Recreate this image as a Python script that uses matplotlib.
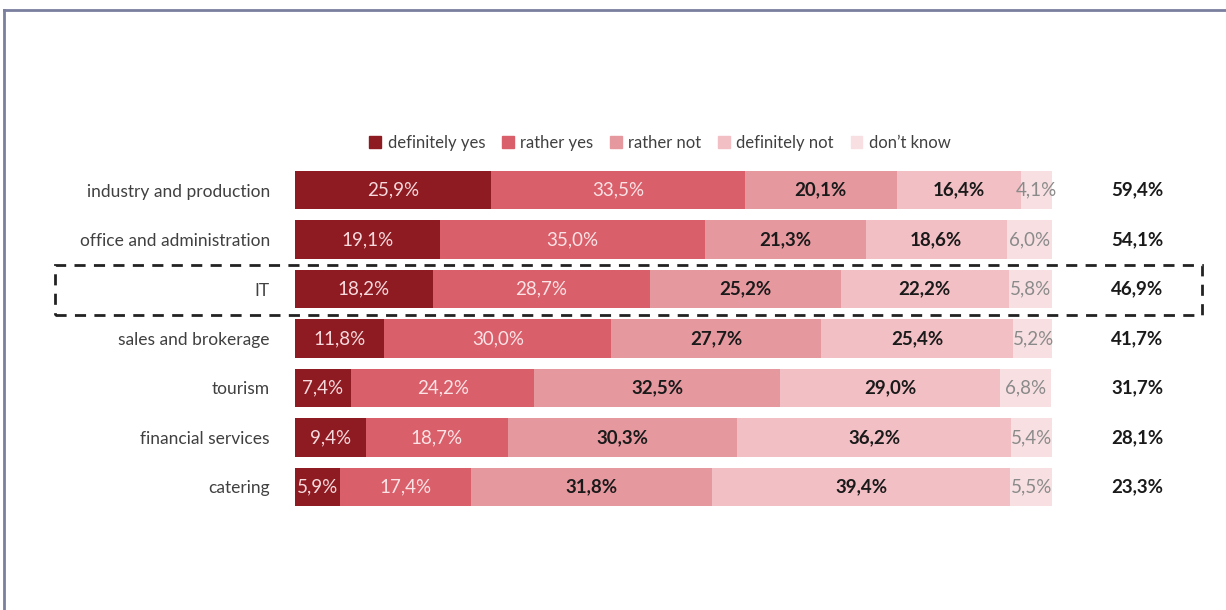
import matplotlib.pyplot as plt
from matplotlib.patches import Rectangle
from matplotlib.lines import Line2D

plt.rcParams['font.family'] = ['Lato', 'DejaVu Sans']

# ----- data -----
categories = ['industry and production', 'office and administration', 'IT',
              'sales and brokerage', 'tourism', 'financial services', 'catering']
definitely_yes = [25.9, 19.1, 18.2, 11.8, 7.4, 9.4, 5.9]
rather_yes = [33.5, 35.0, 28.7, 30.0, 24.2, 18.7, 17.4]
rather_not = [20.1, 21.3, 25.2, 27.7, 32.5, 30.3, 31.8]
definitely_not = [16.4, 18.6, 22.2, 25.4, 29.0, 36.2, 39.4]
dont_know = [4.1, 6.0, 5.8, 5.2, 6.8, 5.4, 5.5]
totals = [59.4, 54.1, 46.9, 41.7, 31.7, 28.1, 23.3]

series_names = ['definitely yes', 'rather yes', 'rather not', 'definitely not', 'don\u2019t know']
colors = ['#8e1b22', '#d95f6a', '#e6989f', '#f2bfc4', '#f8dfe2']
text_colors = ['#f7dadd', '#fbe3e6', '#1a1a1a', '#1a1a1a', '#8a8a8a']
text_weights = ['normal', 'normal', 'bold', 'bold', 'normal']


def fmt(v):
    return f'{v:.1f}%'.replace('.', ',')


def main():
    fig = plt.figure(figsize=(12.26, 6.10), dpi=100)
    W, H = 1226, 610

    # bar area: 0-100% spans px 295..1052, rows centred 190..487
    left_px, right_px = 295, 1052
    top_px, bot_px = 165.25, 511.75
    ax = fig.add_axes([left_px / W, 1 - bot_px / H,
                       (right_px - left_px) / W, (bot_px - top_px) / H])

    series = [definitely_yes, rather_yes, rather_not, definitely_not, dont_know]
    y = list(range(len(categories)))
    lefts = [0.0] * len(categories)
    for vals, col, tc, tw in zip(series, colors, text_colors, text_weights):
        ax.barh(y, vals, left=lefts, height=0.77, color=col, edgecolor='none')
        for i, v in enumerate(vals):
            ax.text(lefts[i] + v / 2, i, fmt(v), ha='center', va='center',
                    color=tc, fontsize=13.5, fontweight=tw)
        lefts = [l + v for l, v in zip(lefts, vals)]

    for i, t in enumerate(totals):
        ax.text(111.3, i, fmt(t), ha='center', va='center', fontsize=13.5,
                fontweight='bold', color='#1a1a1a', clip_on=False)

    ax.set_xlim(0, 100)
    ax.set_ylim(len(categories) - 0.5, -0.5)
    ax.set_yticks(y)
    ax.set_yticklabels(categories, fontsize=12.5, color='#404040')
    ax.tick_params(axis='y', length=0, pad=18)
    ax.set_xticks([])
    for s in ax.spines.values():
        s.set_visible(False)

    # dashed box around IT row
    fig.add_artist(Rectangle((55 / W, 1 - 315 / H), (1202 - 55) / W, 50 / H,
                             transform=fig.transFigure, fill=False,
                             edgecolor='#222222', linestyle=(0, (4, 3)), linewidth=2))

    # frame lines (left and top)
    fig.add_artist(Line2D([4 / W, 4 / W], [0, 1 - 10 / H], transform=fig.transFigure,
                          color='#7a7f9e', linewidth=2))
    fig.add_artist(Line2D([4 / W, 1], [1 - 10 / H, 1 - 10 / H], transform=fig.transFigure,
                          color='#7a7f9e', linewidth=2))

    handles = [Rectangle((0, 0), 1, 1, color=c) for c in colors]
    fig.legend(handles, series_names, loc='center', bbox_to_anchor=(660 / W, 1 - 143 / H),
               ncol=5, frameon=False, fontsize=12, handlelength=0.7, handleheight=0.7,
               handletextpad=0.4, columnspacing=1.0, labelcolor='#404040')

    fig.savefig('out.png', dpi=100)


if __name__ == '__main__':
    main()
